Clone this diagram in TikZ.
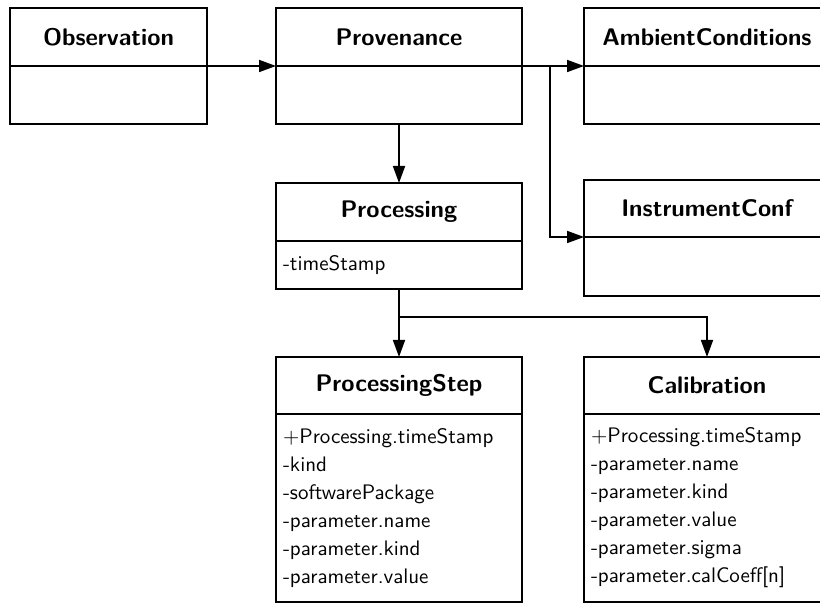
\documentclass[tikz,border=0pt]{standalone}
\usepackage{tikz}
\usetikzlibrary{positioning,arrows.meta}
\tikzset{
	classhead/.style={draw, line width=0.9pt, outer sep=0pt, minimum height=29pt, inner sep=0pt, anchor=north west, font=\sffamily\bfseries\fontsize{12}{14}\selectfont},
	classbody/.style={draw, line width=0.9pt, outer sep=0pt, inner xsep=3.5pt, inner ysep=0pt, align=left, font=\sffamily\fontsize{10.5}{14}\selectfont},
	assoc/.style={line width=0.9pt, -{Triangle[length=8.5pt,width=6pt]}}
}
\begin{document}
\begin{tikzpicture}[x=0.5pt,y=-0.5pt]
		\useasboundingbox (0,0) rectangle (820,603);
		\clip (0,0) rectangle (820,603);
		\node[classhead, minimum width=98.5pt] (obsh) at (10,8) {Observation};
		\node[classbody, minimum width=98.5pt, minimum height=29pt, below=0pt of obsh] (obsb) {};
		\node[classhead, minimum width=123pt] (provh) at (276,8) {Provenance};
		\node[classbody, minimum width=123pt, minimum height=29pt, below=0pt of provh] (provb) {};
		\node[classhead, minimum width=123pt] (ambh) at (584,8) {AmbientConditions};
		\node[classbody, minimum width=123pt, minimum height=29pt, below=0pt of ambh] (ambb) {};
		\node[classhead, minimum width=123pt, minimum height=28.5pt] (insth) at (584,180) {InstrumentConf};
		\node[classbody, minimum width=123pt, minimum height=29.5pt, below=0pt of insth] (instb) {};
		\node[classhead, minimum width=123pt] (proch) at (276,183) {Processing};
		\node[classbody, text width=116pt, minimum height=24pt, below=0pt of proch] (procb) {-timeStamp};
		\node[classhead, minimum width=123pt, minimum height=28.5pt] (psteph) at (276,357) {ProcessingStep};
		\node[classbody, text width=116pt, minimum height=94pt, below=0pt of psteph] (pstepb) {+Processing.timeStamp\\-kind\\-softwarePackage\\-parameter.name\\-parameter.kind\\-parameter.value};
		\node[classhead, minimum width=123pt, minimum height=28.5pt] (calh) at (584,357) {Calibration};
		\node[classbody, text width=116pt, minimum height=94pt, below=0pt of calh] (calb) {+Processing.timeStamp\\-parameter.name\\-parameter.kind\\-parameter.value\\-parameter.sigma\\-parameter.calCoeff[n]};
		\draw[assoc] (obsh.south east) -- (provh.south west);
		\draw[assoc] (provh.south east) -- (ambh.south west);
		\draw[assoc] ([xshift=14pt]provh.south east) |- (insth.south west);
		\draw[assoc] (provb.south) -- (proch.north);
		\draw[assoc] (procb.south) -- (psteph.north);
		\draw[assoc] ([yshift=-14pt]procb.south) -| (calh.north);
\end{tikzpicture}
\end{document}
